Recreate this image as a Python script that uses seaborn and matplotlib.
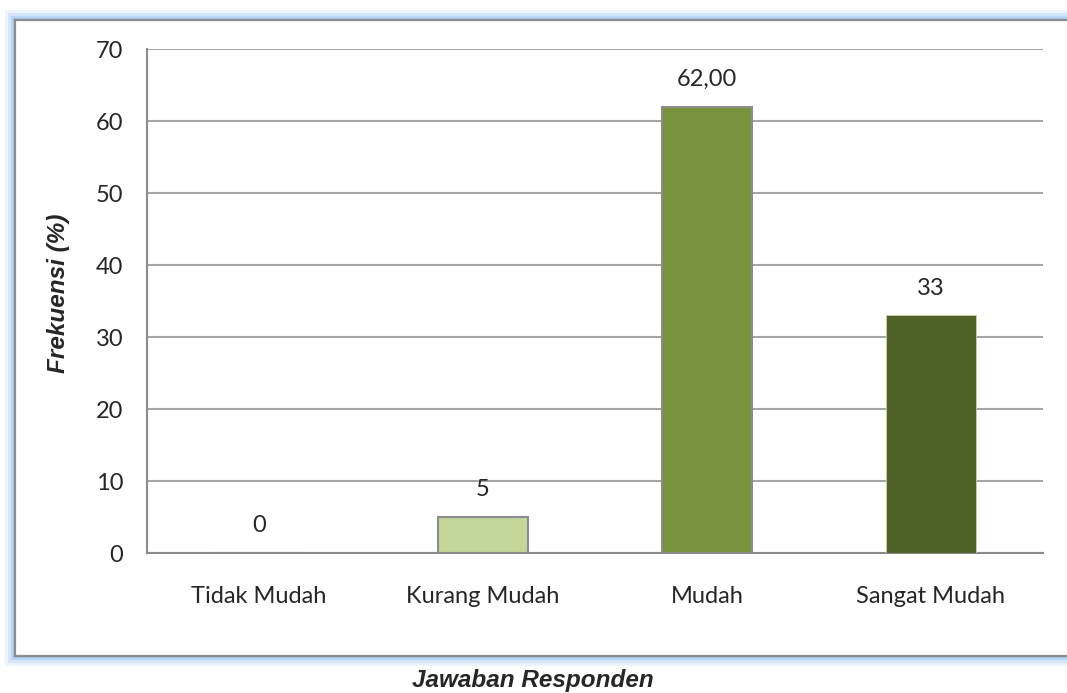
import matplotlib
matplotlib.use("Agg")
import matplotlib.pyplot as plt
from matplotlib.patches import Rectangle
import seaborn as sns
import pandas as pd

# data
categories = ["Tidak Mudah", "Kurang Mudah", "Mudah", "Sangat Mudah"]
frekuensi = [0, 5, 62, 33]
labels = ["0", "5", "62,00", "33"]
colors = ["#C3D69B", "#C3D69B", "#77933C", "#4F6228"]

sns.set_style("white")
plt.rcParams["font.family"] = ["Lato", "DejaVu Sans"]

df = pd.DataFrame({"Jawaban": categories, "Frekuensi": frekuensi})

fig = plt.figure(figsize=(10.67, 6.93), dpi=100)

# excel-like frame with blue shadow
W, H = 1067, 693
def px_rect(x0, y0, x1, y1, **kw):
    return Rectangle((x0 / W, 1 - y1 / H), (x1 - x0) / W, (y1 - y0) / H,
                     transform=fig.transFigure, **kw)

for off, c in [(10, "#EEF4FC"), (7, "#D6E6F9"), (4, "#B9D4F5"), (2, "#A6C8F0")]:
    fig.patches.append(px_rect(15 - off, 20 - off, W + 20, 656 + off, facecolor=c, edgecolor="none", zorder=0))
fig.patches.append(px_rect(15, 20, W + 20, 656, facecolor="white", edgecolor="#8C8C8C", linewidth=1.6, zorder=1))

ax = fig.add_axes([147 / W, 1 - 553 / H, (1043 - 147) / W, (553 - 49) / H])
ax.set_zorder(2)
ax.patch.set_alpha(0)

sns.barplot(data=df, x="Jawaban", y="Frekuensi", hue="Jawaban", palette=colors,
            saturation=1, width=0.4, legend=False, ax=ax, zorder=3)

for p, cat in zip(ax.patches, categories):
    if cat == "Sangat Mudah":
        p.set_edgecolor("#C3D69B")
        p.set_linewidth(0.6)
    else:
        p.set_edgecolor("#8C8C8C")
        p.set_linewidth(1.5)

ax.set_ylim(0, 70)
ax.set_xlim(-0.5, len(categories) - 0.5)
ax.set_yticks(range(0, 71, 10))
ax.yaxis.grid(True, color="#A6A6A6", linewidth=1.5)
ax.set_axisbelow(True)

for s in ["top", "right"]:
    ax.spines[s].set_visible(False)
for s in ["left", "bottom"]:
    ax.spines[s].set_color("#8C8C8C")
    ax.spines[s].set_linewidth(1.5)

ax.tick_params(axis="y", length=6, width=1.5, color="#8C8C8C", labelsize=17, pad=11)
ax.set_xticks(range(len(categories)))
ax.set_xticklabels(categories)
ax.set_xticks([i - 0.5 for i in range(len(categories) + 1)], minor=True)
ax.tick_params(axis="x", which="major", length=0, labelsize=17, pad=24)
ax.tick_params(axis="x", which="minor", length=6, width=1.5, color="#8C8C8C")

for i, (v, t) in enumerate(zip(frekuensi, labels)):
    ax.annotate(t, (i, v), xytext=(0, 27), textcoords="offset pixels",
                ha="center", va="center", fontsize=17, zorder=4)

ax.set_xlabel("")
ax.set_ylabel("Frekuensi (%)", fontsize=17.5, fontweight="bold", fontstyle="italic",
              family=["Liberation Sans"])
ax.yaxis.set_label_coords(-0.086, 0.515)

fig.text(533 / W, 1 - 681 / H, "Jawaban Responden", ha="center", va="center",
         fontsize=17.5, fontweight="bold", fontstyle="italic", family=["Liberation Sans"])

fig.savefig("out.png", dpi=100)
